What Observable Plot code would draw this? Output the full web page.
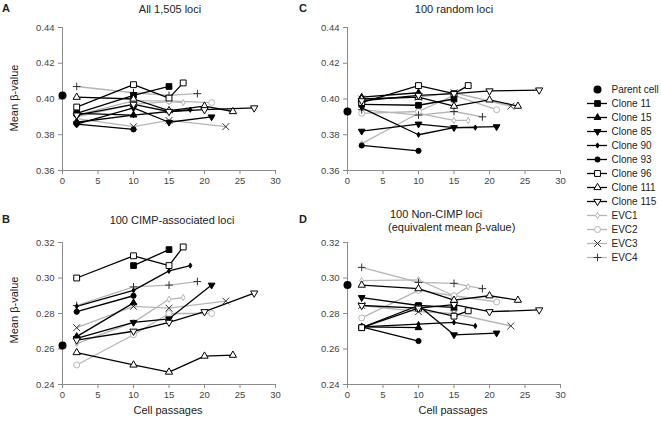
<!DOCTYPE html>
<html>
<head>
<meta charset="utf-8">
<script src="https://cdn.jsdelivr.net/npm/d3@7"></script>
<script src="https://cdn.jsdelivr.net/npm/@observablehq/plot@0.6"></script>
<style>
  body { margin: 0; background: white; }
  #chart { position: relative; width: 661px; height: 425px; font-family: "Liberation Sans", Arial, sans-serif; color: #222; overflow: hidden; }
  #chart svg { position: absolute; overflow: visible; background: transparent; max-width: none; }
  .lbl { position: absolute; white-space: nowrap; font-size: 11px; color: #222; }
</style>
</head>
<body>
<div id="chart"></div>
<script>
// ---------- data ----------
const series = ["Clone 11","Clone 15","Clone 85","Clone 90","Clone 93","Clone 96","Clone 111","Clone 115","EVC1","EVC2","EVC3","EVC4"];
const passages = [
  [2,10,15],        // Clone 11
  [2,10],           // Clone 15
  [2,10,15,21],     // Clone 85
  [2,10,15,18],     // Clone 90
  [2,10],           // Clone 93
  [2,10,15,17],     // Clone 96
  [2,10,15,20,24],  // Clone 111
  [2,10,15,20,27],  // Clone 115
  [2,10,15,17],     // EVC1
  [2,10,15,21],     // EVC2
  [2,10,15,23],     // EVC3
  [2,10,15,19]      // EVC4
];
// parent cell (passage 0) values for panels A, B, C, D
const parentValues = [0.402, 0.262, 0.393, 0.296];

// A: All 1,505 loci
const valuesA = [
  [0.392, 0.402, 0.407],
  [0.387, 0.391],
  [0.386, 0.395, 0.387, 0.390],
  [0.392, 0.391, 0.393, 0.394],
  [0.386, 0.383],
  [0.3955, 0.408, 0.4005, 0.409],
  [0.401, 0.400, 0.3935, 0.396, 0.393],
  [0.391, 0.397, 0.393, 0.394, 0.395],
  [0.390, 0.397, 0.3985, 0.398],
  [0.391, 0.399, 0.399, 0.398],
  [0.389, 0.3845, 0.388, 0.3845],
  [0.407, 0.4035, 0.402, 0.403]
];
// B: 100 CIMP-associated loci
const valuesB = [
  [null, 0.307, 0.316],
  [0.267, 0.286],
  [0.266, 0.275, 0.277, 0.296],
  [0.284, 0.293, 0.304, 0.307],
  [0.281, 0.290],
  [0.300, 0.3125, 0.307, 0.3175],
  [0.258, 0.251, 0.247, 0.256, 0.2565],
  [0.265, 0.270, 0.275, 0.281, 0.2915],
  [0.263, 0.275, 0.288, 0.289],
  [0.251, 0.268, 0.280, 0.280],
  [0.272, 0.284, 0.283, 0.287],
  [0.2845, 0.295, 0.296, 0.298]
];
// C: 100 random loci
const valuesC = [
  [0.397, 0.3965, 0.400],
  [0.401, 0.4035],
  [0.382, 0.386, 0.384, 0.3845],
  [0.395, 0.380, 0.384, 0.384],
  [0.374, 0.371],
  [0.398, 0.4075, 0.403, 0.4075],
  [0.400, 0.401, 0.396, 0.3995, 0.396],
  [0.399, 0.402, 0.403, 0.4045, 0.405],
  [0.375, 0.392, 0.388, 0.388],
  [0.392, 0.393, 0.402, 0.394],
  [0.400, 0.401, 0.4035, 0.396],
  [0.394, 0.391, 0.393, 0.390]
];
// D: 100 Non-CIMP loci (equivalent mean beta-value)
const valuesD = [
  [0.272, 0.2845, 0.2835],
  [0.2725, 0.272],
  [0.289, 0.2845, 0.268, 0.269],
  [0.2725, 0.274, 0.275, 0.273],
  [0.2725, 0.2645],
  [0.272, 0.283, 0.2785, 0.2815],
  [0.296, 0.294, 0.2875, 0.290, 0.2875],
  [0.2845, 0.283, 0.285, 0.281, 0.282],
  [0.2985, 0.299, 0.290, 0.295],
  [0.2775, 0.293, 0.290, 0.2865],
  [0.2845, 0.281, 0.280, 0.273],
  [0.306, 0.2975, 0.297, 0.294]
];
const xTicks = [0, 5, 10, 15, 20, 25, 30];
const yTicksTop = [0.36, 0.38, 0.40, 0.42, 0.44];
const yTicksBottom = [0.24, 0.26, 0.28, 0.30, 0.32];

// ---------- styles ----------
const triDown = {
  draw(context, size) {
    const s3 = Math.sqrt(3);
    const y = -Math.sqrt(size / (s3 * 3));
    context.moveTo(0, -y * 2);
    context.lineTo(-s3 * y, y);
    context.lineTo(s3 * y, y);
    context.closePath();
  }
};
const GREY = "#b5b5b5";
const styles = [
  {symbol: "square",   r: 3.2, fill: "#000", stroke: "#000", line: "#000"},
  {symbol: "triangle", r: 2.5, fill: "#000", stroke: "#000", line: "#000"},
  {symbol: triDown,    r: 2.5, fill: "#000", stroke: "#000", line: "#000"},
  {symbol: "diamond",  r: 1.6, fill: "#000", stroke: "#000", line: "#000"},
  {symbol: "circle",   r: 2.6, fill: "#000", stroke: "#000", line: "#000"},
  {symbol: "square",   r: 3.3, fill: "#fff", stroke: "#000", line: "#000"},
  {symbol: "triangle", r: 2.7, fill: "#fff", stroke: "#000", line: "#000"},
  {symbol: triDown,    r: 2.7, fill: "#fff", stroke: "#000", line: "#000"},
  {symbol: "diamond",  r: 1.9, fill: "#fff", stroke: GREY,   line: GREY},
  {symbol: "circle",   r: 3.0, fill: "#fff", stroke: GREY,   line: GREY},
  {symbol: "times",    r: 3.2, fill: "none", stroke: "#333", line: GREY},
  {symbol: "plus",     r: 2.6, fill: "none", stroke: "#333", line: GREY}
];
const drawOrder = [8, 9, 10, 11, 0, 1, 2, 3, 4, 5, 6, 7];

const chart = document.getElementById("chart");
const FONT = "'Liberation Sans', Arial, sans-serif";

function place(svg, left, top) {
  svg.style.left = left + "px";
  svg.style.top = top + "px";
  chart.appendChild(svg);
}

function panel(values, parent, yDomain, yTicks, left, top, mb) {
  const rowsFor = i => passages[i].map((p, j) => ({x: p, y: values[i][j]})).filter(d => d.y != null);
  const marks = [
    Plot.ruleY([yDomain[0]], {stroke: "#8a8a8a", strokeWidth: 1}),
    Plot.ruleX([0], {stroke: "#8a8a8a", strokeWidth: 1}),
    Plot.axisX({ticks: xTicks, tickSize: 4, tickPadding: 3, stroke: "#8a8a8a", fill: "#444", label: null}),
    Plot.axisY({ticks: yTicks, tickFormat: d3.format(".2f"), tickSize: 4, tickPadding: 4, stroke: "#8a8a8a", fill: "#444", label: null})
  ];
  for (const i of drawOrder) {
    marks.push(Plot.line(rowsFor(i), {x: "x", y: "y", stroke: styles[i].line, strokeWidth: 1.3}));
  }
  for (const i of drawOrder) {
    const st = styles[i];
    marks.push(Plot.dot(rowsFor(i), {x: "x", y: "y", symbol: st.symbol, r: st.r, fill: st.fill, stroke: st.stroke, strokeWidth: 1}));
  }
  marks.push(Plot.dot([{x: 0, y: parent}], {x: "x", y: "y", r: 4, fill: "#000"}));
  const svg = Plot.plot({
    width: 290, height: 200,
    marginLeft: 62, marginRight: 15, marginTop: 27, marginBottom: mb,
    style: {fontFamily: FONT, fontSize: "9.5px", background: "transparent", overflow: "visible"},
    x: {domain: [0, 30], axis: null, label: null},
    y: {domain: yDomain, axis: null, label: null},
    marks
  });
  place(svg, left, top);
}

panel(valuesA, parentValues[0], [0.36, 0.44], yTicksTop, 0, 0, 30);
panel(valuesC, parentValues[2], [0.36, 0.44], yTicksTop, 285, 0, 30);
panel(valuesB, parentValues[1], [0.24, 0.32], yTicksBottom, 0, 215, 31);
panel(valuesD, parentValues[3], [0.24, 0.32], yTicksBottom, 285, 215, 31);

// ---------- legend ----------
const legendNames = ["Parent cell", ...series];
const legendMarks = [];
series.forEach((s, i) => {
  const st = styles[i];
  legendMarks.push(Plot.ruleY([s], {y: d => d, x1: () => 0, x2: () => 1, stroke: st.line, strokeWidth: 1.3}));
  legendMarks.push(Plot.dot([s], {y: d => d, x: () => 0.5, symbol: st.symbol, r: st.r, fill: st.fill, stroke: st.stroke, strokeWidth: 1}));
});
legendMarks.push(Plot.dot(["Parent cell"], {y: d => d, x: () => 0.5, r: 4, fill: "#000"}));
legendMarks.push(Plot.text(legendNames, {y: d => d, x: () => 1, text: d => d, dx: 4, textAnchor: "start", fill: "#222", fontSize: 10}));
const legend = Plot.plot({
  width: 81, height: 210, margin: 0,
  style: {fontFamily: FONT, background: "transparent", overflow: "visible"},
  x: {domain: [0, 1], range: [7, 27], axis: null},
  y: {type: "point", domain: legendNames, range: [11, 195], axis: null},
  marks: legendMarks
});
place(legend, 580, 70);

// ---------- text labels ----------
function label(txt, x, y, opts = {}) {
  const d = document.createElement("div");
  d.className = "lbl";
  d.textContent = txt;
  d.style.left = x + "px";
  d.style.top = y + "px";
  let tf = opts.align === "left" ? "translate(0,-50%)" : "translate(-50%,-50%)";
  if (opts.rotate) tf += " rotate(-90deg)";
  d.style.transform = tf;
  if (opts.bold) d.style.fontWeight = "bold";
  if (opts.size) d.style.fontSize = opts.size + "px";
  chart.appendChild(d);
}
label("A", 6, 8, {bold: true});
label("C", 303, 8, {bold: true});
label("B", 6, 219, {bold: true});
label("D", 303, 219, {bold: true});
label("All 1,505 loci", 170, 9);
label("100 random loci", 454, 9);
label("100 CIMP-associated loci", 172, 220);
label("100 Non-CIMP loci", 390, 214, {align: "left"});
label("(equivalent mean \u03b2-value)", 388, 227, {align: "left"});
label("Mean \u03b2-value", 14, 98, {rotate: true});
label("Mean \u03b2-value", 14, 310, {rotate: true});
label("Cell passages", 168, 410);
label("Cell passages", 453, 410);
</script>
</body>
</html>
